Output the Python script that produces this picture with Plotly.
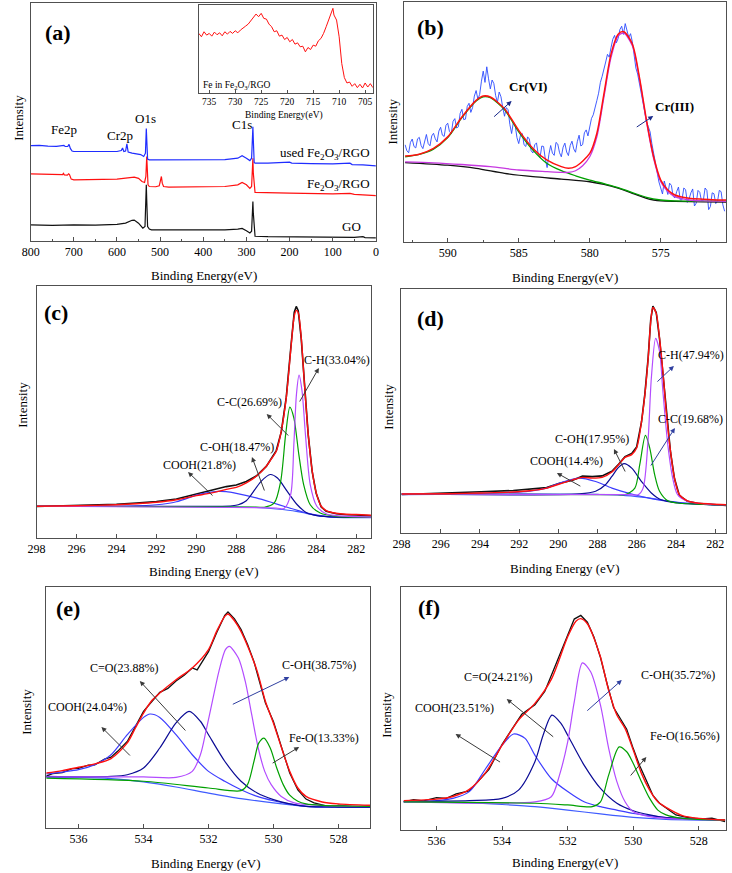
import plotly.graph_objects as go

W, H = 732, 873
SERIF = "Liberation Serif, Times New Roman, serif"
FRAME = "#505050"

# ---------------- (a) survey spectra ----------------
a_go_x = [800, 750, 700, 650, 600, 580, 565, 560, 550, 540, 535, 533, 532, 531, 529, 525, 520, 500, 450, 400, 350, 320, 310, 300, 292, 288, 286, 285, 284, 282, 280, 250, 200, 150, 100, 50, 30, 25, 0]
a_go_y = [6.8, 6.6, 6.8, 6.7, 7.0, 7.5, 8.7, 8.8, 7.5, 5.4, 6.1, 14.5, 23.6, 17.3, 6.1, 5.0, 4.7, 4.7, 4.6, 4.6, 4.7, 5.0, 5.3, 4.3, 3.4, 4.1, 11.7, 16.6, 11.7, 3.4, 2.0, 1.8, 1.7, 1.7, 1.5, 1.5, 1.8, 1.4, 1.3]
a_fe_x = [800, 780, 760, 740, 726, 724, 722, 715, 712, 710, 706, 700, 650, 600, 580, 560, 550, 542, 536, 533, 531, 530, 528, 525, 510, 502, 499, 497, 495, 492, 480, 400, 350, 320, 310, 300, 292, 288, 286, 285, 284, 282, 280, 200, 100, 60, 50, 0]
a_fe_y = [28.2, 28.1, 27.8, 27.8, 27.9, 28.4, 27.8, 27.7, 28.2, 27.9, 26.0, 25.7, 25.7, 26.0, 26.4, 26.8, 26.3, 25.0, 24.6, 27.1, 35.5, 32.7, 23.6, 22.9, 22.8, 23.2, 25.7, 27.1, 24.3, 22.9, 22.6, 22.8, 22.9, 23.6, 24.6, 23.6, 22.1, 22.9, 28.5, 34.8, 28.5, 21.5, 20.4, 20.1, 19.8, 20.0, 19.6, 19.1]
a_used_x = [800, 780, 760, 740, 723, 720, 714, 711, 708, 704, 700, 650, 600, 590, 587, 584, 580, 577, 574, 565, 555, 545, 538, 534, 532, 531, 529, 525, 500, 450, 400, 350, 320, 310, 300, 292, 288, 286, 285, 284, 282, 280, 250, 200, 195, 150, 100, 60, 55, 30, 0]
a_used_y = [40.1, 40.2, 39.9, 39.8, 40.2, 39.7, 39.7, 40.6, 38.9, 37.8, 37.6, 37.6, 37.6, 38.0, 39.1, 37.6, 37.8, 40.8, 37.4, 36.9, 36.6, 36.3, 35.5, 36.9, 47.3, 42.5, 34.4, 34.1, 34.1, 34.1, 34.1, 34.2, 34.8, 35.8, 34.8, 33.8, 34.8, 42.5, 48.0, 42.5, 33.0, 32.7, 32.7, 33.1, 32.7, 32.5, 32.4, 32.7, 32.1, 32.0, 31.6]

# inset: Fe 2p
ins_x = [737, 736.5, 736, 735.5, 735, 734.5, 734, 733.5, 733, 732.5, 732, 731.5, 731, 730.5, 730, 729.5, 729, 728.5, 728, 727.5,
         727, 726.5, 726, 725.5, 725, 724.5, 724, 723.5, 723, 722.5, 722, 721.5, 721, 720.5, 720, 719.5, 719, 718.5, 718, 717.5,
         717, 716.5, 716, 715.5, 715, 714.5, 714, 713.5, 713, 712.5, 712, 711.5, 711.2, 711, 710.5, 710, 709.5, 709, 708.5, 708,
         707.5, 707, 706.5, 706, 705.5, 705, 704.5, 704, 703.5]
ins_y = [67.7, 63.9, 69.6, 65.8, 67.7, 64.6, 69.2, 66.2, 68.4, 65.0, 69.6, 66.9, 70.0, 67.7, 70.7, 68.4, 71.5, 73.4, 76.0, 78.3,
         82.1, 84.8, 89.7, 86.7, 90.5, 84.8, 84.0, 78.3, 75.3, 69.6, 70.7, 64.6, 65.8, 60.8, 63.1, 58.2, 60.8, 55.5, 57.0, 52.5,
         53.2, 46.8, 51.7, 49.4, 54.4, 53.2, 59.3, 62.0, 67.7, 75.3, 83.7, 92.4, 96.2, 88.6, 82.9, 63.9, 33.5, 17.5, 11.4, 12.5,
         7.6, 10.6, 6.1, 9.9, 5.7, 11.4, 6.8, 10.6, 6.1]

# ---------------- (b) Cr 2p ----------------
b_data_x = [593 - 0.125 * i for i in range(181)]
b_data_y = [40.5, 38.0, 37.2, 41.5, 42.9, 39.8, 39.2, 43.0,
            43.6, 40.2, 38.9, 42.5, 44.8, 41.0, 40.1, 44.2,
            45.3, 43.0, 41.7, 46.2, 47.8, 44.5, 44.0, 48.6,
            49.5, 46.0, 45.2, 50.3, 51.4, 47.5, 48.0, 53.6,
            55.3, 51.0, 51.2, 56.5, 57.8, 54.0, 56.0, 60.8,
            63.1, 59.5, 61.5, 67.0, 71.2, 66.5, 73.0, 68.0,
            63.8, 67.5, 66.0, 61.0, 58.2, 62.5, 60.5, 56.0,
            52.4, 56.0, 55.1, 49.0, 45.2, 50.0, 48.6, 43.5,
            41.0, 44.5, 45.2, 40.5, 39.8, 43.8, 42.9, 38.0,
            37.1, 40.5, 41.3, 36.5, 35.2, 40.0, 39.8, 34.5,
            31.0, 36.5, 40.2, 37.0, 36.1, 41.5, 40.8, 37.2,
            35.5, 39.5, 41.2, 37.5, 36.0, 40.2, 42.0, 38.8,
            37.4, 41.8, 44.5, 40.0, 40.6, 45.5, 46.7, 44.2,
            48.2, 51.5, 53.0, 56.5, 58.9, 62.0, 66.5, 69.0,
            71.6, 75.0, 78.2, 77.0, 81.0, 84.5, 86.1, 83.0,
            84.8, 88.5, 89.9, 86.5, 91.0, 88.0, 85.2, 86.8,
            83.4, 78.0, 72.5, 70.0, 66.1, 62.0, 58.3, 55.5,
            50.2, 48.0, 45.9, 41.0, 36.8, 33.0, 29.4, 25.0,
            22.5, 20.0, 25.4, 22.0, 19.8, 24.5, 23.6, 19.0,
            18.4, 21.0, 22.9, 17.5, 17.6, 22.5, 21.8, 16.5,
            18.0, 20.5, 22.1, 15.0, 16.2, 21.5, 20.7, 17.0,
            17.4, 22.5, 21.5, 13.5, 14.8, 20.5, 20.1, 16.0,
            16.9, 21.5, 21.0, 15.5, 12.8]
b_fit_x = [593, 592, 591, 590, 589, 588, 587.5, 587, 586, 585, 584, 583, 582, 581.5, 581, 580, 579.5, 579, 578.5, 578, 577.6, 577, 576.5, 576, 575.5, 575, 574.5, 574, 573, 572, 571, 570.4]
b_fit_y = [35.8, 36.6, 39.0, 43.8, 52.1, 59.0, 60.8, 60.4, 55.5, 46.5, 39.0, 34.1, 31.4, 30.7, 31.4, 36.9, 45.2, 61.7, 78.3, 86.6, 87.6, 82.5, 68.6, 50.7, 35.5, 25.8, 21.7, 19.6, 18.2, 17.8, 17.5, 17.5]
b_cr6_x = [593, 592, 591, 590, 589, 588, 587.5, 587, 586, 585, 584, 583, 582, 581, 580, 579, 578, 577, 576, 575, 574, 572, 570.4]
b_cr6_y = [35.5, 36.5, 38.7, 43.5, 51.8, 58.7, 60.5, 60.1, 55.1, 45.9, 38.3, 32.7, 29.7, 27.6, 25.8, 24.3, 22.7, 20.6, 18.6, 17.5, 17.1, 17.0, 17.0]
b_cr3_x = [593, 591, 589, 587, 585, 583, 582, 581.5, 581, 580.5, 580, 579.5, 579, 578.5, 578, 577.6, 577, 576.5, 576, 575.5, 575, 574.5, 574, 573, 572, 571, 570.4]
b_cr3_y = [33.4, 33.0, 32.3, 31.4, 30.0, 29.3, 29.0, 29.0, 29.7, 31.8, 35.5, 43.8, 60.4, 76.9, 85.9, 87.0, 81.8, 68.0, 50.0, 34.8, 25.1, 21.0, 18.9, 17.5, 17.1, 17.0, 16.9]
b_bg_x = [593, 590, 588, 586, 584, 582, 580, 579, 578, 577, 576, 575.5, 575, 574, 572, 570.4]
b_bg_y = [33.1, 32.0, 30.7, 28.6, 27.2, 26.2, 25.1, 24.0, 22.4, 20.3, 18.2, 17.5, 17.1, 16.9, 16.7, 16.6]

# ---------------- (c) C 1s, Fe2O3/RGO ----------------
c_fit_x = [298, 296, 294, 293, 292, 291, 290, 289.5, 289, 288.5, 288, 287.5, 287, 286.5, 286.27, 286, 285.75, 285.5, 285.25, 285.1, 285, 284.9, 284.75, 284.6, 284.4, 284.2, 284, 283.75, 283.5, 283, 282.5, 282, 281.2]
c_fit_y = [12.6, 12.8, 13.2, 13.6, 14.2, 15.2, 16.8, 17.5, 18.3, 19.3, 20.1, 21.9, 24.5, 28.5, 31.1, 34.4, 42.4, 55.6, 76.8, 88.1, 90.3, 89.4, 79.5, 62.3, 41.1, 26.5, 17.9, 12.6, 10.9, 9.8, 9.4, 9.3, 9.0]
c_raw_y = [12.5, 12.9, 13.4, 13.9, 14.5, 15.5, 17.4, 18.5, 19.4, 20.4, 21.0, 22.4, 24.6, 28.4, 31.3, 34.7, 42.1, 55.9, 77.5, 89.6, 91.9, 90.2, 79.0, 61.8, 40.8, 26.2, 17.6, 12.3, 10.6, 9.6, 9.2, 9.1, 8.8]
c_cooh_x = [298, 294, 292, 291, 290, 289.5, 288.9, 288.5, 288, 287, 286.3, 285.5, 284.6, 283.8, 283, 281.2]
c_cooh_y = [12.6, 12.6, 13.2, 14.4, 17.0, 17.9, 18.5, 18.4, 17.7, 15.9, 14.3, 12.3, 10.2, 8.9, 8.3, 8.2]
c_coh_x = [298, 289, 288.2, 287.9, 287.5, 287.25, 286.76, 286.3, 285.94, 285.45, 284.95, 284.46, 283.97, 283, 281.2]
c_coh_y = [12.6, 12.6, 12.8, 13.2, 14.8, 17.2, 22.5, 25.2, 23.8, 18.5, 13.2, 9.9, 8.9, 8.3, 8.2]
c_cc_x = [298, 287, 286.6, 286.1, 285.78, 285.53, 285.32, 285.12, 284.87, 284.63, 284.3, 283.8, 283, 281.2]
c_cc_y = [12.6, 12.3, 12.2, 13.9, 22.5, 41.1, 51.9, 47.7, 33.1, 21.2, 13.2, 9.9, 8.6, 8.3]
c_ch_x = [298, 286, 285.61, 285.28, 285.12, 284.99, 284.86, 284.71, 284.54, 284.3, 283.97, 283.48, 283, 281.2]
c_ch_y = [12.6, 11.9, 11.7, 17.2, 37.1, 57.0, 64.6, 58.3, 41.1, 21.2, 12.6, 9.5, 8.9, 8.3]
c_bg_x = [298, 292, 288, 287, 286, 285, 284.5, 284, 283.5, 283, 281.2]
c_bg_y = [12.6, 12.5, 12.3, 12.1, 11.5, 10.6, 9.8, 9.0, 8.5, 8.2, 8.1]

# ---------------- (d) C 1s, used ----------------
d_fit_x = [298, 295.6, 293.95, 292.3, 291.45, 290.6, 289.94, 289.27, 288.77, 288.27, 287.77, 287.27, 286.93, 286.6, 286.26, 286.01, 285.76, 285.59, 285.42, 285.29, 285.18, 285.01, 284.84, 284.67, 284.5, 284.28, 284.08, 283.83, 283.42, 282.92, 282.25, 281.45]
d_fit_y = [16.0, 16.1, 16.4, 16.8, 17.3, 18.4, 20.1, 21.8, 22.8, 22.5, 22.8, 25.0, 28.0, 31.0, 32.1, 34.8, 45.7, 56.6, 71.6, 86.6, 92.4, 90.0, 79.8, 66.2, 49.8, 33.4, 22.5, 15.7, 13.2, 12.3, 11.9, 11.6]
d_raw_y = [15.8, 16.3, 16.9, 17.4, 17.9, 18.6, 20.4, 21.6, 23.3, 23.1, 23.4, 25.3, 28.2, 31.3, 32.6, 35.2, 45.5, 56.9, 72.0, 87.5, 93.0, 90.4, 79.5, 66.0, 49.5, 33.0, 22.3, 15.4, 13.0, 12.2, 11.8, 11.3]
d_cooh_x = [298, 293.1, 291.45, 290.6, 289.94, 288.94, 288.1, 287.27, 286.26, 285.26, 283.92, 282.25, 281.45]
d_cooh_y = [16.0, 16.4, 17.2, 18.4, 20.5, 22.5, 21.1, 18.4, 16.0, 14.1, 12.6, 11.6, 11.5]
d_coh_x = [298, 288.94, 288.1, 287.6, 287.27, 286.93, 286.65, 286.26, 285.76, 285.26, 284.76, 283.92, 282.25, 281.45]
d_coh_y = [16.0, 16.0, 17.1, 19.8, 23.2, 26.9, 28.4, 26.6, 21.1, 16.4, 13.6, 12.3, 11.6, 11.5]
d_cc_x = [298, 287, 286.6, 286.1, 285.85, 285.56, 285.34, 285.09, 284.84, 284.42, 283.92, 282.25, 281.45]
d_cc_y = [16.0, 15.7, 15.7, 18.4, 28.0, 40.0, 34.8, 23.9, 17.1, 13.2, 12.3, 11.6, 11.5]
d_ch_x = [298, 286.5, 285.93, 285.68, 285.43, 285.26, 285.04, 284.84, 284.67, 284.42, 284.17, 283.92, 283.42, 282.92, 282.25, 281.45]
d_ch_y = [16.0, 15.7, 15.7, 18.4, 37.5, 63.4, 79.8, 74.4, 58.0, 36.2, 22.5, 15.7, 13.0, 12.3, 11.7, 11.6]
d_bg_x = [298, 292, 288, 287, 286, 285, 284, 283, 281.45]
d_bg_y = [15.7, 16.0, 15.8, 15.6, 14.9, 13.9, 12.6, 11.9, 11.5]

# ---------------- (e) O 1s, Fe2O3/RGO ----------------
e_fit_x = [537, 536.5, 536, 535.5, 535, 534.5, 534.25, 534, 533.75, 533.5, 533, 532.5, 532, 531.75, 531.5, 531.4, 531.2, 531, 530.75, 530.5, 530.25, 530, 529.75, 529.5, 529.25, 529, 528.5, 528, 527]
e_fit_y = [22.8, 23.8, 25.2, 26.6, 28.8, 35.3, 41.5, 47.7, 52.8, 56.0, 61.5, 66.4, 74.0, 81.6, 87.8, 88.8, 86.0, 81.6, 74.0, 65.0, 52.6, 43.5, 33.2, 23.5, 16.6, 13.1, 10.8, 10.0, 9.4]
e_raw_x = [537, 536.8, 536.5, 536.2, 536, 535.7, 535.5, 535.2, 535, 534.8, 534.5, 534.25, 534, 533.75, 533.5, 533.25, 533, 532.75, 532.5, 532.35, 532.2, 532, 531.75, 531.5, 531.4, 531.2, 531, 530.8, 530.6, 530.4, 530.25, 530, 529.75, 529.5, 529.25, 529, 528.75, 528.5, 528.2, 528, 527.5, 527]
e_raw_y = [21.5, 22.6, 23.0, 24.6, 24.7, 26.1, 26.2, 28.6, 29.4, 31.8, 35.9, 42.3, 48.4, 52.4, 56.3, 57.9, 61.0, 63.4, 66.4, 65.6, 68.8, 73.2, 81.0, 88.2, 89.6, 86.8, 82.4, 76.3, 69.0, 58.6, 52.0, 44.1, 33.9, 22.8, 15.8, 12.0, 10.4, 9.7, 8.6, 9.5, 8.8, 9.2]
e_cooh_x = [537, 536, 535.5, 535, 534.5, 534, 533.8, 533.5, 533, 532.5, 532, 531.5, 531, 530.5, 530, 529.5, 529, 528, 527]
e_cooh_y = [22.4, 24.2, 26.3, 30.4, 38.7, 45.9, 47.3, 45.9, 38.7, 30.4, 23.5, 19.4, 15.9, 13.1, 11.3, 10.0, 9.0, 8.7, 8.7]
e_co_x = [537, 535, 534.5, 534, 533.5, 533, 532.6, 532.25, 532, 531.5, 531, 530.5, 530, 529.5, 529, 528, 527]
e_co_y = [21.4, 21.4, 22.1, 24.9, 33.2, 43.6, 48.4, 44.3, 38.7, 27.7, 19.4, 14.5, 11.8, 10.0, 9.0, 8.7, 8.7]
e_coh_x = [537, 534, 533, 532.5, 532.25, 532.08, 531.88, 531.68, 531.48, 531.36, 531.08, 530.87, 530.67, 530.47, 530.27, 530.07, 529.76, 529.36, 528.5, 527]
e_coh_y = [21.2, 21.2, 21.0, 23.5, 30.4, 40.1, 52.6, 65.0, 74.0, 75.4, 70.5, 60.9, 47.0, 33.2, 23.5, 18.0, 13.1, 10.4, 9.4, 9.0]
e_feo_x = [537, 534, 532, 531, 530.8, 530.6, 530.45, 530.29, 530.1, 529.9, 529.7, 529.5, 529.25, 529, 528.5, 527]
e_feo_y = [20.7, 19.4, 16.6, 15.5, 18.0, 27.7, 35.3, 37.3, 33.2, 24.9, 18.0, 13.6, 11.1, 10.0, 9.4, 9.0]
e_bg_x = [537, 536, 535, 534, 533, 532, 531, 530, 529, 528, 527]
e_bg_y = [21.0, 21.0, 20.5, 19.1, 17.0, 14.5, 12.2, 10.4, 9.0, 8.6, 8.6]

# ---------------- (f) O 1s, used ----------------
f_fit_x = [537, 536, 535.5, 535, 534.5, 534, 533.5, 533, 532.5, 532, 531.75, 531.6, 531.4, 531.25, 531, 530.75, 530.5, 530.25, 530, 529.75, 529.5, 529.25, 529, 528.5, 528, 527.2]
f_fit_y = [12.1, 12.7, 13.8, 16.7, 23.7, 34.9, 45.2, 52.1, 62.0, 79.5, 85.9, 87.0, 84.9, 80.8, 71.2, 57.5, 47.3, 41.8, 32.9, 23.3, 16.4, 11.6, 9.3, 5.9, 4.8, 4.1]
f_raw_x = [537, 536.7, 536.4, 536, 535.7, 535.4, 535, 534.7, 534.4, 534, 533.7, 533.4, 533, 532.7, 532.4, 532, 531.8, 531.6, 531.4, 531.2, 531, 530.8, 530.6, 530.4, 530.2, 530, 529.8, 529.6, 529.4, 529.2, 529, 528.7, 528.4, 528, 527.6, 527.2]
f_raw_y = [11.6, 12.5, 12.0, 13.3, 13.0, 14.9, 16.1, 20.6, 24.9, 35.3, 41.2, 47.6, 51.5, 57.0, 66.9, 80.2, 86.8, 88.3, 85.5, 79.4, 71.0, 60.3, 50.4, 46.0, 41.5, 33.5, 26.3, 20.4, 14.2, 11.0, 9.0, 6.2, 5.3, 4.5, 4.9, 3.4]
f_cooh_x = [537, 536, 535.5, 535, 534.5, 534, 533.65, 533.3, 533, 532.5, 532, 531.5, 531, 530.5, 530, 529.5, 529, 528, 527.2]
f_cooh_y = [11.6, 12.1, 13.0, 15.8, 25.3, 34.9, 39.5, 37.7, 30.8, 21.2, 15.8, 11.6, 9.6, 8.2, 6.8, 5.9, 5.1, 4.5, 4.1]
f_co_x = [537, 535, 534, 533.5, 533, 532.75, 532.48, 532.2, 532, 531.5, 531, 530.5, 530, 529.5, 529, 528, 527.2]
f_co_y = [11.8, 12.1, 13.0, 16.4, 28.1, 39.0, 47.3, 43.8, 39.0, 26.7, 17.1, 11.0, 7.9, 6.2, 5.1, 4.5, 4.1]
f_coh_x = [537, 533, 532.5, 532.25, 532, 531.8, 531.55, 531.3, 531, 530.75, 530.5, 530.25, 530, 529.5, 529, 527.2]
f_coh_y = [11.6, 11.6, 13.7, 22.6, 36.3, 52.7, 68.8, 65.1, 51.4, 33.6, 19.9, 11.6, 7.5, 5.5, 4.8, 4.1]
f_feo_x = [537, 533, 532, 531.25, 531, 530.75, 530.43, 530.2, 530, 529.75, 529.5, 529.25, 529, 528.5, 527.2]
f_feo_y = [11.6, 11.0, 10.3, 9.6, 11.6, 22.6, 34.2, 32.2, 27.4, 19.9, 13.0, 8.2, 6.2, 4.8, 4.1]
f_bg_x = [537, 536, 535, 534, 533, 532, 531, 530, 529, 528, 527.2]
f_bg_y = [11.6, 11.5, 11.2, 10.5, 9.6, 8.2, 6.6, 5.2, 4.4, 4.1, 4.0]

# ---------------- colours ----------------
RED = "#ff1010"
BLK = "#111111"
ROYAL = "#3d3dff"
NAVY = "#0b0b95"
GREEN = "#00a000"
VIOLET = "#b34cff"
BGBLUE = "#3f5cff"
MAGENTA = "#c638e0"

fig = go.Figure()


def add(x, y, color, width, xa, ya, smooth=False):
    ln = dict(color=color, width=width)
    if smooth:
        ln["shape"] = "spline"
        ln["smoothing"] = 0.8
    fig.add_trace(go.Scatter(x=x, y=y, mode="lines", line=ln, xaxis=xa, yaxis=ya,
                             showlegend=False, hoverinfo="skip"))


# (a)
add(a_go_x, a_go_y, BLK, 1.2, "x", "y")
add(a_fe_x, a_fe_y, RED, 1.2, "x", "y")
add(a_used_x, a_used_y, "#1f2dff", 1.2, "x", "y")
add(ins_x, ins_y, RED, 1.0, "x2", "y2")
# (b)
add(b_data_x, b_data_y, "#2b4bff", 0.9, "x3", "y3")
add(b_bg_x, b_bg_y, BLK, 1.3, "x3", "y3", True)
add(b_cr6_x, b_cr6_y, GREEN, 1.3, "x3", "y3", True)
add(b_cr3_x, b_cr3_y, MAGENTA, 1.3, "x3", "y3", True)
add(b_fit_x, b_fit_y, RED, 1.5, "x3", "y3", True)
# (c)
add(c_fit_x, c_raw_y, BLK, 1.6, "x4", "y4")
add(c_bg_x, c_bg_y, BGBLUE, 1.2, "x4", "y4", True)
add(c_cooh_x, c_cooh_y, ROYAL, 1.2, "x4", "y4", True)
add(c_coh_x, c_coh_y, NAVY, 1.2, "x4", "y4", True)
add(c_cc_x, c_cc_y, GREEN, 1.2, "x4", "y4", True)
add(c_ch_x, c_ch_y, VIOLET, 1.2, "x4", "y4", True)
add(c_fit_x, c_fit_y, RED, 1.4, "x4", "y4", True)
# (d)
add(d_fit_x, d_raw_y, BLK, 1.6, "x5", "y5")
add(d_bg_x, d_bg_y, BGBLUE, 1.2, "x5", "y5", True)
add(d_cooh_x, d_cooh_y, ROYAL, 1.2, "x5", "y5", True)
add(d_coh_x, d_coh_y, NAVY, 1.2, "x5", "y5", True)
add(d_cc_x, d_cc_y, GREEN, 1.2, "x5", "y5", True)
add(d_ch_x, d_ch_y, VIOLET, 1.2, "x5", "y5", True)
add(d_fit_x, d_fit_y, RED, 1.4, "x5", "y5", True)
# (e)
add(e_raw_x, e_raw_y, BLK, 1.3, "x6", "y6")
add(e_bg_x, e_bg_y, BGBLUE, 1.2, "x6", "y6", True)
add(e_cooh_x, e_cooh_y, ROYAL, 1.2, "x6", "y6", True)
add(e_co_x, e_co_y, NAVY, 1.2, "x6", "y6", True)
add(e_coh_x, e_coh_y, VIOLET, 1.2, "x6", "y6", True)
add(e_feo_x, e_feo_y, GREEN, 1.2, "x6", "y6", True)
add(e_fit_x, e_fit_y, RED, 1.4, "x6", "y6", True)
# (f)
add(f_raw_x, f_raw_y, BLK, 1.3, "x7", "y7")
add(f_bg_x, f_bg_y, BGBLUE, 1.2, "x7", "y7", True)
add(f_cooh_x, f_cooh_y, ROYAL, 1.2, "x7", "y7", True)
add(f_co_x, f_co_y, NAVY, 1.2, "x7", "y7", True)
add(f_coh_x, f_coh_y, VIOLET, 1.2, "x7", "y7", True)
add(f_feo_x, f_feo_y, GREEN, 1.2, "x7", "y7", True)
add(f_fit_x, f_fit_y, RED, 1.4, "x7", "y7", True)


def px(v):
    return v / W


def py(v):
    return 1 - v / H


def xcfg(x0, x1, anchor, rng, dtick, minor=None, size=12, tl=4):
    d = dict(domain=[px(x0), px(x1)], anchor=anchor, range=rng, autorange=False,
             showline=True, mirror=True, linecolor=FRAME, linewidth=1,
             ticks="inside", ticklen=tl, tickwidth=1, tickcolor=FRAME,
             tick0=0, dtick=dtick, showgrid=False, zeroline=False,
             tickfont=dict(family=SERIF, size=size, color="black"), fixedrange=True)
    if minor:
        d["minor"] = dict(ticks="inside", ticklen=tl / 2, dtick=minor, tickcolor=FRAME, showgrid=False)
    return d


def ycfg(bot, top, anchor):
    return dict(domain=[py(bot), py(top)], anchor=anchor, range=[0, 100], autorange=False,
                showline=True, mirror=True, linecolor=FRAME, linewidth=1,
                ticks="", showticklabels=False, showgrid=False, zeroline=False, fixedrange=True)


fig.update_layout(
    width=W, height=H, margin=dict(l=0, r=0, t=0, b=0),
    paper_bgcolor="white", plot_bgcolor="white", showlegend=False,
    xaxis=xcfg(22, 373, "y", [800, 0], 100, 50),
    yaxis=ycfg(241, 3, "x"),
    xaxis2=xcfg(193, 370, "y2", [737, 703.5], 5, None, size=9.5, tl=3),
    yaxis2=ycfg(93, 5, "x2"),
    xaxis3=xcfg(402, 729, "y3", [593.05, 570.4], 5, 2.5),
    yaxis3=ycfg(242, 2, "x3"),
    xaxis4=xcfg(28, 368, "y4", [298, 281.26], 2),
    yaxis4=ycfg(538, 286, "x4"),
    xaxis5=xcfg(399, 729, "y5", [298, 281.45], 2),
    yaxis5=ycfg(533, 289, "x5"),
    xaxis6=xcfg(38, 367, "y6", [536.99, 527.03], 2),
    yaxis6=ycfg(828, 587, "x6"),
    xaxis7=xcfg(399, 729, "y7", [537.07, 527.17], 2),
    yaxis7=ycfg(830, 587, "x7"),
)

ann = []


def T(text, x, y, size=13, xa="center", bold=False, angle=0):
    if bold:
        text = "<b>" + text + "</b>"
    ann.append(dict(text=text, x=px(x), y=py(y), xref="paper", yref="paper", showarrow=False,
                    xanchor=xa, yanchor="middle", textangle=angle,
                    font=dict(family=SERIF, size=size, color="black")))


def A(hx, hy, tx, ty, color="#3a3a3a"):
    ann.append(dict(text="", x=px(hx), y=py(hy), xref="paper", yref="paper",
                    ax=tx - hx, ay=ty - hy, axref="pixel", ayref="pixel",
                    showarrow=True, arrowhead=2, arrowsize=1, arrowwidth=1, arrowcolor=color))


# panel letters
for lab, x, y in [("(a)", 50, 33), ("(b)", 429, 27), ("(c)", 48, 312),
                  ("(d)", 429, 318), ("(e)", 60, 608), ("(f)", 427, 607)]:
    T(lab, x, y, size=22, bold=True)

# axis titles
for x, y, t in [(198, 275, "Binding Energy(eV)"), (565, 277, "Binding Energy(eV)"),
                (198, 571, "Binding Energy (eV)"), (565, 568, "Binding Energy (eV)"),
                (200, 863, "Binding Energy (eV)"), (565, 862, "Binding Energy(eV)")]:
    T(t, x, y, size=13)
for x, y in [(10, 118), (390, 122), (13, 405), (385, 407), (17, 712), (383, 715)]:
    T("Intensity", x, y, size=13, angle=-90)

# (a) labels
T("Fe2p", 56, 129)
T("Cr2p", 113, 135)
T("O1s", 139, 119)
T("C1s", 237, 125)
T("used Fe<sub>2</sub>O<sub>3</sub>/RGO", 369, 153, xa="right")
T("Fe<sub>2</sub>O<sub>3</sub>/RGO", 369, 184, xa="right")
T("GO", 348, 227)
T("Binding Energy(eV)", 280, 116, size=9.5)
T("Fe in Fe<sub>2</sub>O<sub>3</sub>/RGO", 195, 86, size=9.5, xa="left")

# (b)
T("Cr(VI)", 528, 87, bold=True)
T("Cr(III)", 677, 106, bold=True)
A(511, 101, 492, 118, "#1a2a8a")
A(655, 116, 637, 128, "#1a2a8a")

# (c)
T("C-H(33.04%)", 333, 360, size=12)
T("C-C(26.69%)", 245, 402, size=12)
T("C-OH(18.47%)", 232, 447, size=12)
T("COOH(21.8%)", 194, 465, size=12)
A(315, 368, 295, 403)
A(262, 414, 285, 437)
A(247, 457, 260, 492)
A(182, 472, 208, 497)

# (d)
T("C-H(47.94%)", 693, 355, size=12)
T("C-C(19.68%)", 693, 419, size=12)
T("C-OH(17.95%)", 593, 439, size=12)
T("COOH(14.4%)", 567, 461, size=12)
A(676, 366, 658, 383, "#3040a0")
A(677, 428, 652, 467, "#3040a0")
A(615, 449, 627, 473)
A(557, 473, 582, 487)

# (e)
T("C=O(23.88%)", 117, 668, size=12)
T("C-OH(38.75%)", 315, 665, size=12)
T("COOH(24.04%)", 80, 707, size=12)
T("Fe-O(13.33%)", 320, 738, size=12)
A(133, 681, 180, 732)
A(285, 677, 227, 705, "#3040a0")
A(94, 727, 124, 757)
A(295, 747, 267, 764)

# (f)
T("C=O(24.21%)", 497, 677, size=12)
T("C-OH(35.72%)", 680, 675, size=12)
T("COOH(23.51%)", 453, 708, size=12)
T("Fe-O(16.56%)", 687, 736, size=12)
A(506, 699, 554, 738)
A(623, 680, 587, 712, "#3040a0")
A(454, 734, 500, 763)
A(648, 757, 631, 777)

fig.update_layout(annotations=ann)
fig.write_html("out.html")
